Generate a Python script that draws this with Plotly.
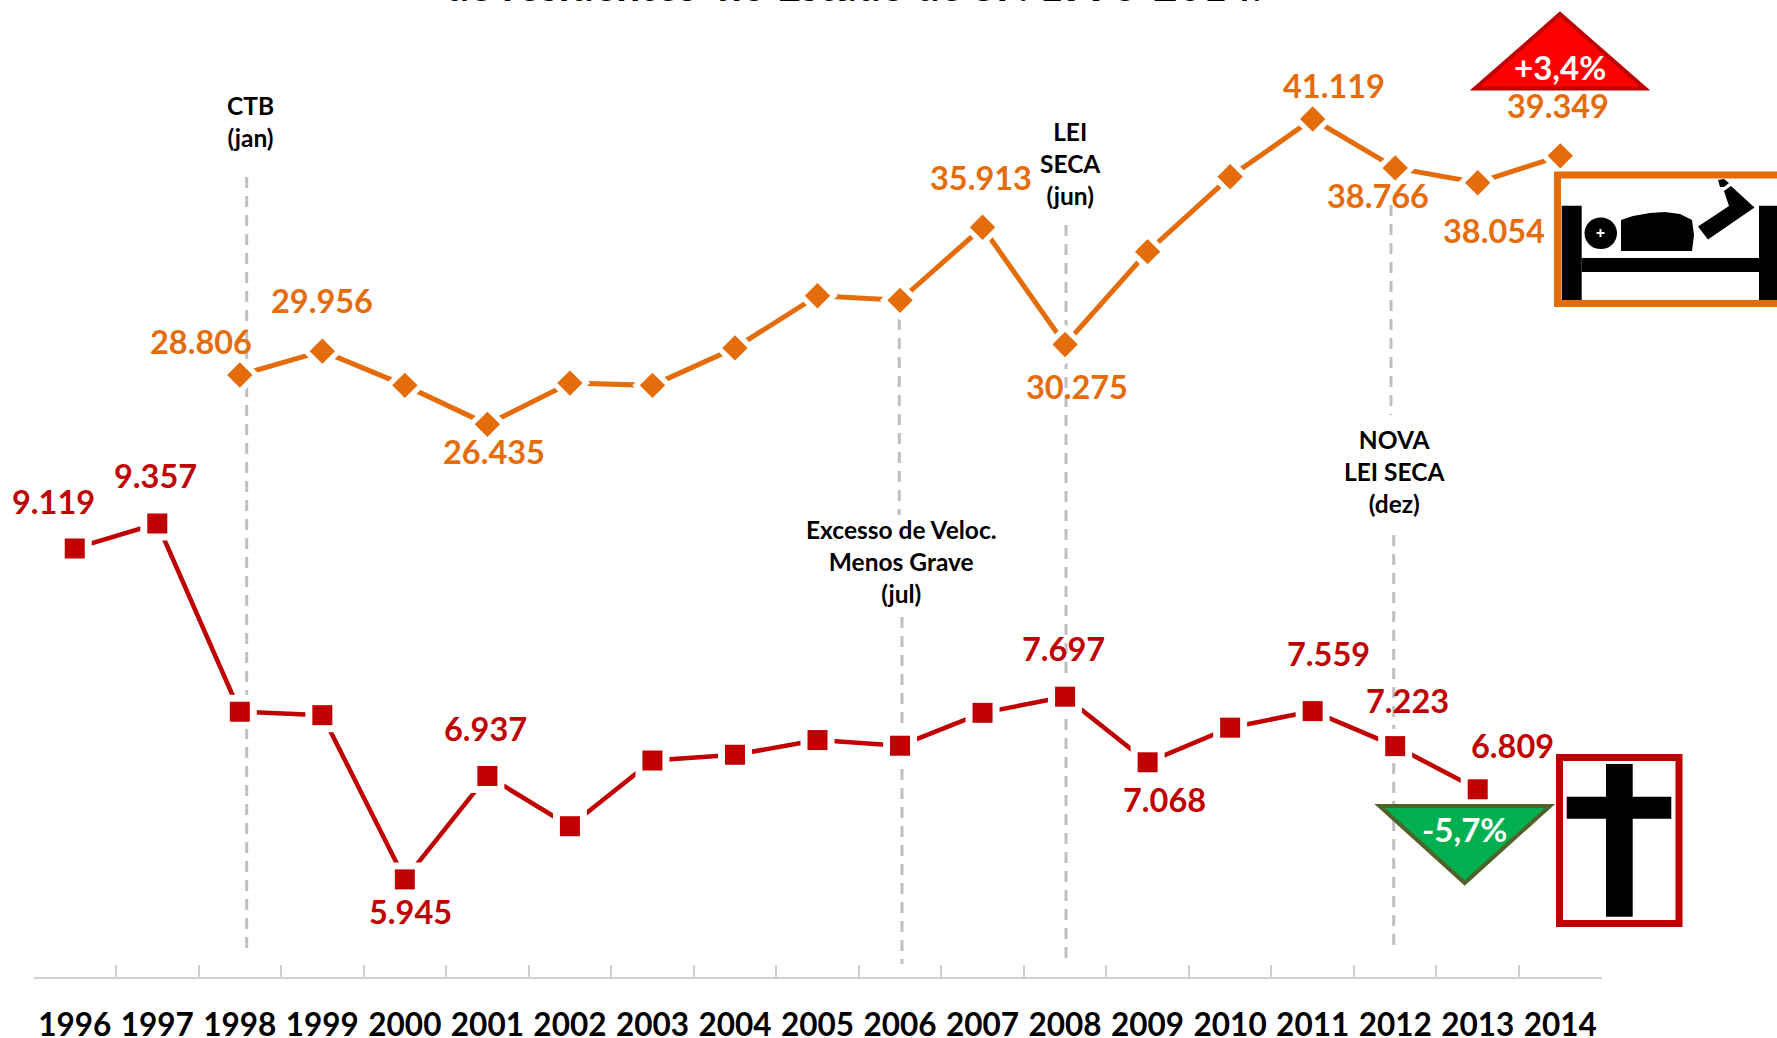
import plotly.graph_objects as go

W, H = 1777, 1038
FONT = "Lato"
ORANGE = "#E46C0A"
RED = "#C00000"
GREY = "#BFBFBF"
AXIS = "#D0D0D0"

years = [str(y) for y in range(1996, 2015)]
feridos_years = years[2:]
feridos = [28806, 29956, 28310, 26435, 28420, 28310, 30110, 32620, 32400, 35913,
           30275, 34740, 38340, 41119, 38766, 38054, 39349]
obitos = [9119, 9357, 7553, 7520, 5945, 6937, 6455, 7085, 7140, 7281, 7227, 7542,
          7697, 7068, 7400, 7559, 7223, 6809]
obitos_years = years[:18]

# label text, centre x px, centre y px
orange_labels = [("28.806", 200.6, 341), ("29.956", 322, 300.5), ("26.435", 494, 452),
                 ("35.913", 981, 177), ("30.275", 1077, 386.6), ("41.119", 1334, 86),
                 ("38.766", 1378, 196), ("38.054", 1494, 230), ("39.349", 1558, 105.5)]
red_labels = [("9.119", 53, 502), ("9.357", 155, 475), ("5.945", 410, 911),
              ("6.937", 485, 728), ("7.697", 1063, 648), ("7.068", 1164, 799),
              ("7.559", 1328, 653), ("7.223", 1407, 700.5), ("6.809", 1512, 745)]
event_labels = [("CTB<br>(jan)", 250.5, 121.5), ("LEI<br>SECA<br>(jun)", 1070, 163.5),
                ("Excesso de Veloc.<br>Menos Grave<br>(jul)", 901, 561),
                ("NOVA<br>LEI SECA<br>(dez)", 1394, 471.5)]
event_lines = [(246.7, 177, 950), (899.3, 300, 515), (902, 617, 964), (1066, 225, 963),
               (1391, 205, 415), (1393.7, 535, 950)]


def px(x):
    return x / W


def py(y):
    return 1 - y / H


def path(points, close=True):
    d = "M" + " L".join(f"{px(x):.5f},{py(y):.5f}" for x, y in points)
    return d + (" Z" if close else "")


fig = go.Figure()


def series(xs, ys, color, symbol, size, halo, lw, axis):
    fig.add_trace(go.Scatter(x=xs, y=ys, mode="lines", line=dict(color=color, width=lw),
                             yaxis=axis, showlegend=False, hoverinfo="skip"))
    fig.add_trace(go.Scatter(x=xs, y=ys, mode="markers",
                             marker=dict(symbol=symbol, size=halo, color="white"),
                             yaxis=axis, showlegend=False, hoverinfo="skip"))
    fig.add_trace(go.Scatter(x=xs, y=ys, mode="markers",
                             marker=dict(symbol=symbol, size=size, color=color),
                             yaxis=axis, showlegend=False))


series(feridos_years, feridos, ORANGE, "diamond", 19.5, 31, 5, "y")
series(obitos_years, obitos, RED, "square", 20, 34, 4.5, "y2")

shapes = []
for x, y0, y1 in event_lines:
    shapes.append(dict(type="line", xref="paper", yref="paper", x0=px(x), x1=px(x),
                       y0=py(y0), y1=py(y1), layer="below",
                       line=dict(color=GREY, width=3, dash="11px,8px")))


def poly(points, fill, line=None, lw=0):
    shapes.append(dict(type="path", xref="paper", yref="paper", path=path(points),
                       fillcolor=fill, line=dict(color=line or fill, width=lw), layer="above"))


def rect(x0, y0, x1, y1, fill="rgba(0,0,0,0)", line=None, lw=0):
    shapes.append(dict(type="rect", xref="paper", yref="paper", x0=px(x0), x1=px(x1),
                       y0=py(y0), y1=py(y1), fillcolor=fill, layer="above",
                       line=dict(color=line or fill, width=lw)))


# red up triangle / green down triangle
poly([(1560, 14), (1645, 88.5), (1475, 88.5)], "#FF0000", RED, 4)
poly([(1464.7, 883), (1379.5, 806), (1550, 806)], "#00B050", "#4F6228", 4)

# bed icon: open frame that runs off the right edge
shapes.append(dict(type="path", xref="paper", yref="paper", layer="above",
                   path=path([(W, 175), (1557.5, 175), (1557.5, 303.5), (W, 303.5)], close=False),
                   line=dict(color=ORANGE, width=7)))
rect(1561.7, 205.7, 1581.7, 300, fill="black")
rect(1759, 205.7, W, 300, fill="black")
rect(1581.7, 258, 1759, 272, fill="black")
shapes.append(dict(type="circle", xref="paper", yref="paper", x0=px(1584.5), x1=px(1617),
                   y0=py(217.5), y1=py(249), fillcolor="black",
                   line=dict(color="black", width=0), layer="above"))
rect(1596.5, 232, 1604.5, 234, fill="white")
rect(1599.5, 229, 1601.5, 237, fill="white")
poly([(1621, 251), (1621, 220), (1633, 216), (1650, 213), (1665, 212), (1680, 214),
      (1692, 220), (1694, 235), (1692, 251)], "black")
poly([(1698, 226.5), (1729, 206), (1724, 191), (1731, 186), (1754.5, 207.5), (1708, 239.5)], "black")
poly([(1718, 180), (1724, 179), (1729, 183), (1724, 187), (1720, 187)], "black")

# cross icon
rect(1559.5, 757.5, 1679, 923.5, line=RED, lw=7)
rect(1606, 764, 1632.7, 916.7, fill="black")
rect(1566.7, 796.7, 1671.3, 818.7, fill="black")

annotations = []


def label(text, x, y, size, color):
    annotations.append(dict(text=f"<b>{text}</b>", xref="paper", yref="paper", x=px(x), y=py(y),
                            xanchor="center", yanchor="middle", showarrow=False, align="center",
                            font=dict(family=FONT, size=size, color=color)))


for t, x, y in orange_labels:
    label(t, x, y, 32.5, ORANGE)
for t, x, y in red_labels:
    label(t, x, y, 32.5, RED)
for t, x, y in event_labels:
    label(t, x, y, 24.5, "black")
label("+3,4%", 1560, 67, 33, "white")
label("-5,7%", 1464, 829, 33, "white")
label("de residentes  no Estado de SP. 1996-2014.", 853, -15, 42.5, "black")

fig.update_layout(
    width=W, height=H, margin=dict(l=0, r=0, t=0, b=0),
    paper_bgcolor="white", plot_bgcolor="white", showlegend=False,
    shapes=shapes, annotations=annotations,
    xaxis=dict(type="category", categoryorder="array", categoryarray=years, automargin=False,
               domain=[33.5 / W, 1601.5 / W], range=[-0.5, 18.5], tickson="boundaries",
               ticks="inside", ticklen=12, tickwidth=2, tickcolor=AXIS, showgrid=False,
               showline=True, linecolor=AXIS, linewidth=2, zeroline=False, tickangle=0,
               tickfont=dict(family=FONT, size=31.5, color="black", weight="bold"),
               ticklabelstandoff=19),
    yaxis=dict(domain=[(H - 977) / H, 1], range=[-141, 46842], visible=False, automargin=False),
    yaxis2=dict(domain=[(H - 977) / H, 1], range=[5009, 14378], visible=False,
                overlaying="y", side="right", automargin=False),
)
fig.write_html("out.html", config={"displayModeBar": False},
               post_script="document.body.style.margin='0';document.body.style.height='1038px';"
                           "document.body.style.overflow='hidden';"
                           "document.documentElement.style.height='1038px';"
                           "document.documentElement.style.overflow='hidden';")
